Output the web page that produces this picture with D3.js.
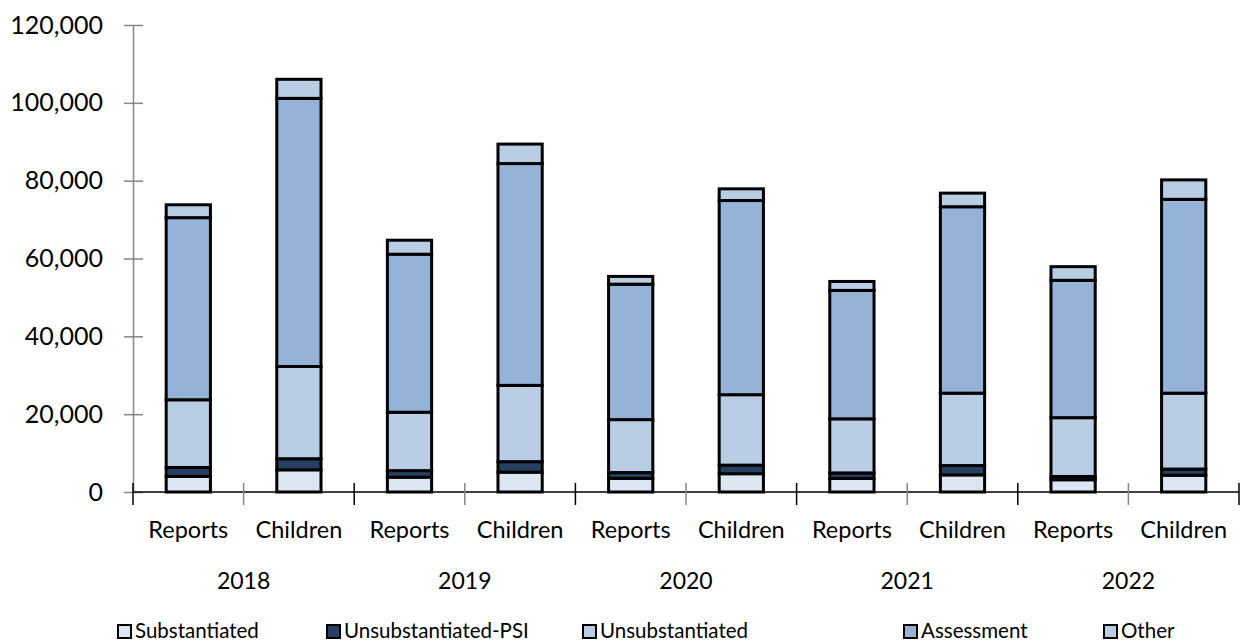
<!DOCTYPE html>
<html>
<head>
<meta charset="utf-8">
<script src="https://cdn.jsdelivr.net/npm/d3@7"></script>
<style>
  body { margin: 0; background: #fff; }
  text { font-family: Lato, "Open Sans", sans-serif; fill: #000; }
</style>
</head>
<body>
<div id="vis1"></div>
<script>
const FRAME_WIDTH = 1243;
const FRAME_HEIGHT = 643;
const MARGINS = {left: 133, right: 4, top: 25, bottom: 151};

// data
const years = ["2018", "2019", "2020", "2021", "2022"];
const kinds = ["Reports", "Children"];
const series = ["Substantiated", "Unsubstantiated-PSI", "Unsubstantiated", "Assessment", "Other"];
const substantiated = [4000, 5700, 3800, 5100, 3500, 4700, 3500, 4400, 3150, 4300];
const unsubPSI      = [2300, 2850, 1700, 2700, 1500, 2200, 1400, 2400, 850, 1600];
const unsubstantiated = [17400, 23700, 15000, 19600, 13600, 18100, 13900, 18600, 15100, 19500];
const assessment    = [46800, 68900, 40600, 57000, 34800, 49900, 33000, 47900, 35300, 49800];
const other         = [3300, 4900, 3600, 5000, 2000, 3000, 2300, 3500, 3500, 5000];
const yTicks = [0, 20000, 40000, 60000, 80000, 100000, 120000];

const COLORS = ["#dce6f2", "#254061", "#b9cde5", "#95b3d7", "#b9cde5"];

const VIS_WIDTH = FRAME_WIDTH - MARGINS.left - MARGINS.right;
const VIS_HEIGHT = FRAME_HEIGHT - MARGINS.top - MARGINS.bottom;

const cats = [];
years.forEach((y) => kinds.forEach((k) => cats.push(y + "|" + k)));

const rows = cats.map((c, i) => ({
  cat: c,
  Substantiated: substantiated[i],
  "Unsubstantiated-PSI": unsubPSI[i],
  Unsubstantiated: unsubstantiated[i],
  Assessment: assessment[i],
  Other: other[i]
}));

const stacked = d3.stack().keys(series)(rows);

const FRAME1 = d3.select("#vis1")
                  .append("svg")
                    .attr("width", FRAME_WIDTH)
                    .attr("height", FRAME_HEIGHT);

const X_SCALE = d3.scaleBand()
                  .domain(cats)
                  .range([MARGINS.left, MARGINS.left + VIS_WIDTH])
                  .paddingInner(0.6)
                  .paddingOuter(0.3);

const Y_SCALE = d3.scaleLinear()
                  .domain([0, 120000])
                  .range([MARGINS.top + VIS_HEIGHT, MARGINS.top]);

const step = X_SCALE.step();
const x0 = MARGINS.left;
const yBase = Y_SCALE(0);

// y axis
const yAxis = FRAME1.append("g")
      .attr("transform", "translate(" + x0 + ",0)")
      .call(d3.axisLeft(Y_SCALE).tickValues(yTicks).tickFormat(d3.format(",")).tickSizeInner(9).tickSizeOuter(0).tickPadding(21));
yAxis.select(".domain").attr("stroke", "#868686").attr("stroke-width", 1.5);
yAxis.selectAll(".tick line").attr("stroke", "#868686").attr("stroke-width", 1.5).attr("x2", 10).attr("x1", -9);
yAxis.selectAll(".tick text").attr("font-size", "25px").attr("fill", "#000")
     .style("font-family", "Lato, sans-serif");

// bars
FRAME1.selectAll(".layer")
    .data(stacked)
    .enter()
    .append("g")
      .attr("fill", (d, i) => COLORS[i])
    .selectAll("rect")
    .data((d) => d)
    .enter()
    .append("rect")
      .attr("x", (d) => X_SCALE(d.data.cat))
      .attr("y", (d) => Y_SCALE(d[1]))
      .attr("width", X_SCALE.bandwidth())
      .attr("height", (d) => Y_SCALE(d[0]) - Y_SCALE(d[1]))
      .attr("stroke", "#000")
      .attr("stroke-width", 3);

// x axis line
FRAME1.append("line")
    .attr("x1", x0).attr("x2", x0 + VIS_WIDTH)
    .attr("y1", yBase).attr("y2", yBase)
    .attr("stroke", "#000").attr("stroke-width", 1.5);

// category separators
d3.range(cats.length + 1).forEach((i) => {
  FRAME1.append("line")
      .attr("x1", x0 + i * step).attr("x2", x0 + i * step)
      .attr("y1", yBase - 9).attr("y2", yBase + 13)
      .attr("stroke", i % 2 === 0 ? "#000" : "#868686").attr("stroke-width", 1.5);
});

// category labels
FRAME1.selectAll(".catlab")
    .data(cats)
    .enter()
    .append("text")
      .attr("x", (d) => X_SCALE(d) + X_SCALE.bandwidth() / 2)
      .attr("y", yBase + 46)
      .attr("text-anchor", "middle")
      .attr("font-size", "23.5px")
      .text((d) => d.split("|")[1]);

// year labels
FRAME1.selectAll(".yearlab")
    .data(years)
    .enter()
    .append("text")
      .attr("x", (d, i) => x0 + (2 * i + 1) * step)
      .attr("y", yBase + 97)
      .attr("text-anchor", "middle")
      .attr("font-size", "23px")
      .text((d) => d);

// legend
const LEG_X = [118, 327, 583, 904, 1104];
const legend = FRAME1.selectAll(".leg")
    .data(series)
    .enter()
    .append("g")
      .attr("transform", (d, i) => "translate(" + LEG_X[i] + ",625)");
legend.append("rect")
    .attr("width", 13).attr("height", 13)
    .attr("fill", (d, i) => COLORS[i])
    .attr("stroke", "#000").attr("stroke-width", 2);
legend.append("text")
    .attr("x", 17).attr("y", 13)
    .attr("font-size", "20.5px")
    .text((d) => d);
</script>
</body>
</html>
